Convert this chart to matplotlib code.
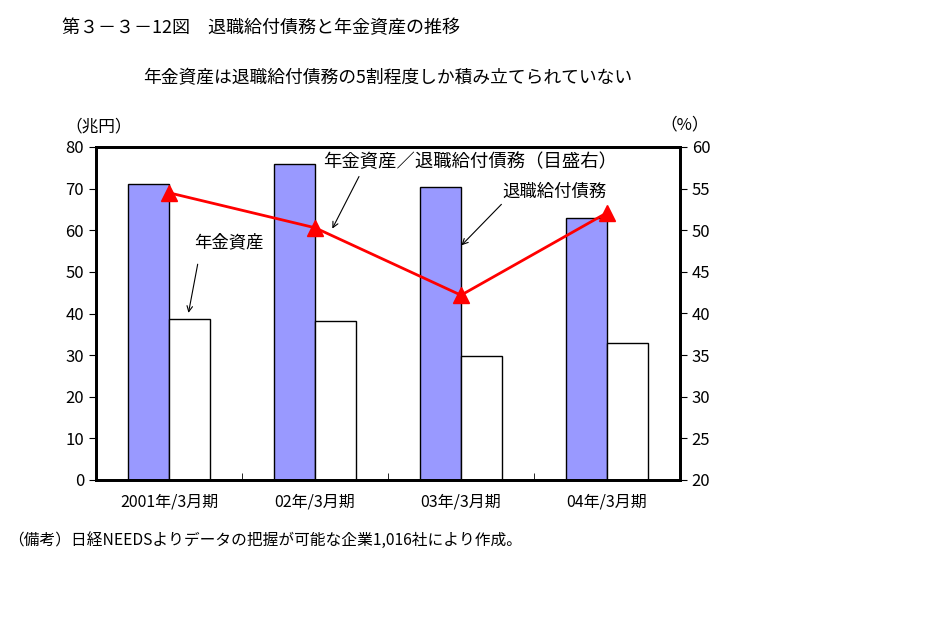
import numpy as np
import matplotlib
matplotlib.use('Agg')
import matplotlib.pyplot as plt

plt.rcParams['font.family'] = ['Noto Sans CJK JP', 'DejaVu Sans']

# data
categories = ['2001年/3月期', '02年/3月期', '03年/3月期', '04年/3月期']
obligations = [71.2, 75.8, 70.5, 63.0]    # 退職給付債務 (兆円)
assets = [38.7, 38.2, 29.8, 32.9]         # 年金資産 (兆円)
ratio = [54.5, 50.3, 42.2, 52.1]          # 年金資産／退職給付債務 (%)

W, H = 929, 644
fig = plt.figure(figsize=(W / 100, H / 100), dpi=100)
ax = fig.add_axes([96 / W, 1 - 480 / H, (680 - 96) / W, (480 - 147) / H])

x = np.arange(len(categories))
bw = 0.28
ax.bar(x - bw / 2, obligations, bw, color='#9999ff', edgecolor='black', linewidth=1)
ax.bar(x + bw / 2, assets, bw, color='white', edgecolor='black', linewidth=1)

ax.set_xlim(-0.5, 3.5)
ax.set_ylim(0, 80)
ax.set_yticks(np.arange(0, 81, 10))
ax.set_xticks(x)
ax.set_xticklabels(categories, fontsize=11.5)
ax.tick_params(axis='x', length=0, pad=10)
ax.set_xticks([0.5, 1.5, 2.5], minor=True)
ax.tick_params(axis='x', which='minor', direction='in', length=5)
ax.tick_params(axis='y', direction='out', length=5, labelsize=12)
for s in ax.spines.values():
    s.set_linewidth(2)

ax2 = ax.twinx()
ax2.plot(x, ratio, color='red', linewidth=2, marker='^', markersize=11,
         markeredgecolor='red')
ax2.set_ylim(20, 60)
ax2.set_yticks(np.arange(20, 61, 5))
ax2.tick_params(axis='y', direction='out', length=5, labelsize=12)
for s in ax2.spines.values():
    s.set_linewidth(2)

# annotations
ax.text(0.41, 57.1, '年金資産', fontsize=12.5, ha='center', va='center')
ax.annotate('', xy=(0.13, 39.5), xytext=(0.2, 52.5),
            arrowprops=dict(arrowstyle='->', color='black', lw=0.8))
ax.text(2.06, 76.4, '年金資産／退職給付債務（目盛右）', fontsize=13.2, ha='center', va='center')
ax.annotate('', xy=(1.11, 59.8), xytext=(1.31, 73.5),
            arrowprops=dict(arrowstyle='->', color='black', lw=0.8))
ax.text(2.64, 69.2, '退職給付債務', fontsize=12.5, ha='center', va='center')
ax.annotate('', xy=(1.99, 55.9), xytext=(2.29, 66.7),
            arrowprops=dict(arrowstyle='->', color='black', lw=0.8))

fig.text(62 / W, 1 - 28 / H, '第３－３－12図　退職給付債務と年金資産の推移',
         fontsize=13, ha='left', va='center')
fig.text(388 / W, 1 - 78 / H, '年金資産は退職給付債務の5割程度しか積み立てられていない',
         fontsize=12.8, ha='center', va='center')
fig.text(65 / W, 1 - 127 / H, '（兆円）', fontsize=12, ha='left', va='center')
fig.text(660 / W, 1 - 125 / H, '（%）', fontsize=12, ha='left', va='center')
fig.text(8 / W, 1 - 540 / H, '（備考）日経NEEDSよりデータの把握が可能な企業1,016社により作成。',
         fontsize=11.3, ha='left', va='center')

fig.savefig('out.png', dpi=100)
